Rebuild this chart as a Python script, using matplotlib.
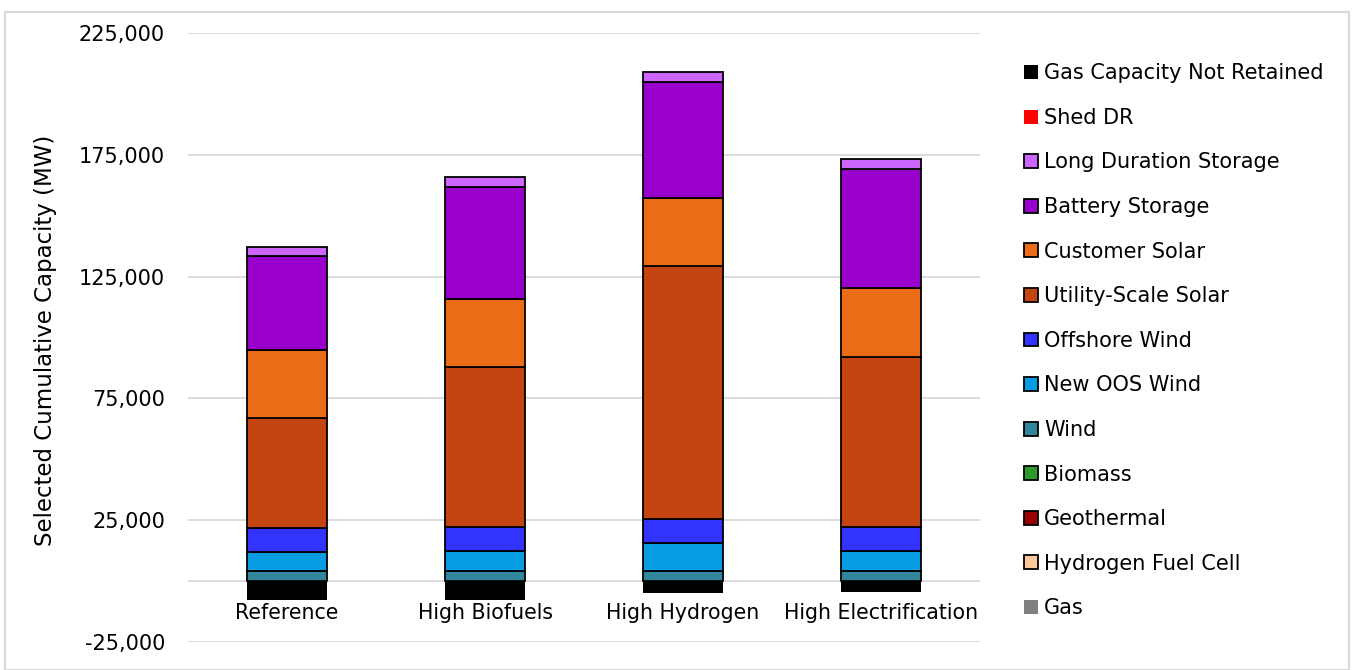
###
## Stacked bar chart of selected cumulative capacity by scenario
###

import numpy as np
import matplotlib
matplotlib.use("Agg")
import matplotlib.pyplot as plt
from matplotlib.patches import Patch, Rectangle

## scenarios on the x axis
scenarios = ["Reference", "High Biofuels", "High Hydrogen", "High Electrification"]

## series values in MW, listed from the bottom of the stack up
gas = [0, 0, 0, 0]
hydrogen_fuel_cell = [0, 0, 0, 0]
geothermal = [0, 0, 0, 0]
biomass = [0, 0, 0, 0]
wind = [4100, 4100, 4100, 4100]
new_oos_wind = [7900, 8200, 11400, 8200]
offshore_wind = [9700, 10000, 9900, 10000]
utility_solar = [45100, 65500, 103900, 69900]
customer_solar = [28100, 28100, 28100, 28100]
battery_storage = [38400, 45900, 47300, 48900]
long_duration_storage = [3700, 4100, 4100, 4200]
shed_dr = [0, 0, 0, 0]
gas_not_retained = [-7600, -7800, -5000, -4600]

series = [
    ("Gas", gas, "#808080", False),
    ("Hydrogen Fuel Cell", hydrogen_fuel_cell, "#FAC89A", True),
    ("Geothermal", geothermal, "#990000", True),
    ("Biomass", biomass, "#2E9A2E", True),
    ("Wind", wind, "#31869B", True),
    ("New OOS Wind", new_oos_wind, "#089DE2", True),
    ("Offshore Wind", offshore_wind, "#3333FF", True),
    ("Utility-Scale Solar", utility_solar, "#C54511", True),
    ("Customer Solar", customer_solar, "#EB6C16", True),
    ("Battery Storage", battery_storage, "#9900CC", True),
    ("Long Duration Storage", long_duration_storage, "#CC66FF", True),
    ("Shed DR", shed_dr, "#FF0000", False),
]

yticks = [-25000, 25000, 75000, 125000, 175000, 225000]

plt.rcParams['font.family'] = ['DejaVu Sans']

W, H = 1352, 670
fig = plt.figure(figsize=(W / 100, H / 100), dpi=100)
ax = fig.add_axes([188 / W, (H - 642) / H, (980 - 188) / W, (642 - 33) / H])

x = np.arange(len(scenarios))
width = 0.40
bottom = np.zeros(len(scenarios))
handles = []
for name, vals, color, edged in series:
    vals = np.array(vals, dtype=float)
    if vals.any():
        ax.bar(x, vals, width, bottom=bottom, color=color,
               edgecolor="black" if edged else color, linewidth=1.3, zorder=3)
    bottom += vals
    handles.append(Patch(facecolor=color, edgecolor="black" if edged else color,
                         linewidth=1.3 if edged else 0, label=name))

## negative bar below zero
ax.bar(x, gas_not_retained, width, color="black", linewidth=0, zorder=3)
handles.append(Patch(facecolor="black", linewidth=0, label="Gas Capacity Not Retained"))

ax.set_xlim(-0.5, len(scenarios) - 0.5)
ax.set_ylim(-25000, 225000)
ax.set_yticks(yticks)
ax.set_yticklabels([f"{v:,}" for v in yticks])
ax.set_xticks([])
ax.tick_params(axis="both", length=0, labelsize=15)
ax.tick_params(axis="y", pad=16.5)
for s in ax.spines.values():
    s.set_visible(False)
ax.grid(axis="y", color="#D9D9D9", linewidth=1.3, zorder=0)
ax.axhline(0, color="#D9D9D9", linewidth=1.3, zorder=1)

## category labels sit just under the zero line, like the original
for xi, name in zip(x, scenarios):
    ax.text(xi, -13200, name, ha="center", va="center", fontsize=14.8)

ax.set_ylabel("Selected Cumulative Capacity (MW)", fontsize=16.5)
ax.yaxis.set_label_coords((57 - 188) / 792, (642 - 340) / 609)

fig.legend(handles=handles[::-1], loc="upper left", bbox_to_anchor=(1016 / W, (H - 55) / H),
           frameon=False, fontsize=15, handlelength=0.65, handleheight=0.65,
           handletextpad=0.3, labelspacing=1.18, borderaxespad=0)

## light grey chart border
fig.patches.append(Rectangle((5 / W, 0), (1349 - 5) / W, (H - 12) / H,
                             transform=fig.transFigure, fill=False,
                             edgecolor="#D9D9D9", linewidth=1.5))

fig.savefig("out.png", dpi=100)
